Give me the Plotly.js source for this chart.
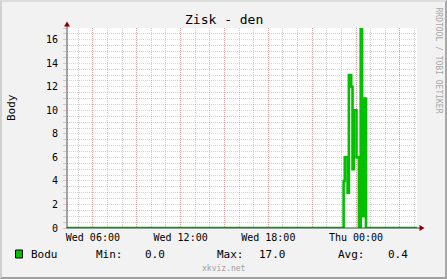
<!DOCTYPE html>
<html>
<head>
<meta charset="utf-8">
<script src="https://cdn.plot.ly/plotly-3.0.1.min.js"></script>
<style>
  html, body { margin: 0; padding: 0; background: #F2F2F2; }
  #wrap { position: relative; width: 447px; height: 279px; }
  #chart { width: 447px; height: 279px; }
  #frame { position: absolute; left: 0; top: 0; width: 447px; height: 279px; box-sizing: border-box;
           border-top: 2px solid #DCDCDC; border-left: 2px solid #D0D0D0;
           border-right: 2px solid #A8A8A8; border-bottom: 2px solid #A0A0A0; pointer-events: none; }
</style>
</head>
<body>
<div id="wrap"><div id="chart"></div><div id="frame"></div></div>
<script>
// Data: hours since Wed 00:00, step values (5-minute samples, points)
const hours  = [4.23, 23.15, 23.23, 23.42, 23.51, 23.67, 23.76, 23.84, 24.03, 24.20, 24.32, 24.41, 24.51, 24.68, 28.17];
const values = [0,    4,     6,     3,     13,    12,    5,     10,    6,     0,     17,    1,     11,    0,     0];

const tickHours  = [6, 9, 12, 15, 18, 21, 24, 27];
const tickLabels = ["Wed 06:00", "", "Wed 12:00", "", "Wed 18:00", "", "Thu 00:00", ""];

const seriesName = "Bodu";
const statLabels = ["Min:", "Max:", "Avg:"];
const statValues = ["0.0", "17.0", "0.4"];

const L = 67, T = 28, W = 350, H = 200;
const X = px => (px - L) / W;
const Y = py => (T + H - py) / H;

const mono = "DejaVu Sans Mono, monospace";
const green = "#00C000";
const redGrid = "rgba(255,0,0,0.22)";
const greyGrid = "rgba(128,128,128,0.36)";

const trace = {
  x: hours, y: values, type: "scatter", mode: "lines",
  line: { shape: "hv", color: green, width: 2.6 },
  hoverinfo: "skip"
};

function ann(text, px, py, size, opts) {
  return Object.assign({
    text: text, xref: "paper", yref: "paper", x: X(px), y: Y(py),
    xanchor: "left", yanchor: "middle", showarrow: false,
    font: { family: mono, size: size, color: "#000" }, borderpad: 0
  }, opts || {});
}

const annotations = [
  ann("Zisk - den", 223.5, 20, 13, { xanchor: "center" }),
  ann("Body", 11, 108, 11, { xanchor: "center", textangle: -90 }),
  ann(seriesName, 30, 254.5, 11),
  ann(statLabels[0], 95, 254.5, 11),
  ann(statValues[0], 144, 254.5, 11),
  ann(statLabels[1], 216, 254.5, 11),
  ann(statValues[1], 258, 254.5, 11),
  ann(statLabels[2], 337, 254.5, 11),
  ann(statValues[2], 386.5, 254.5, 11),
  ann("xkviz.net", 223.5, 268.5, 8, { xanchor: "center", font: { family: mono, size: 8, color: "#A0A0A0" } }),
  ann("RRDTOOL / TOBI OETIKER", 438.5, 60, 8, { xanchor: "center", textangle: 90, font: { family: mono, size: 8, color: "#A8A8A8" } })
];

const axisCol = "#2C4D43";
const shapes = [
  { type: "line", xref: "paper", yref: "paper", x0: X(67), x1: X(67), y0: Y(228), y1: Y(25), line: { color: "#505050", width: 1 } },
  { type: "path", xref: "paper", yref: "paper",
    path: `M ${X(67)} ${Y(21.5)} L ${X(64)} ${Y(26.5)} L ${X(70)} ${Y(26.5)} Z`, fillcolor: "#8B0000", line: { width: 0 } },
  { type: "line", xref: "paper", yref: "paper", x0: X(66), x1: X(420), y0: Y(228), y1: Y(228), line: { color: axisCol, width: 1.2 } },
  { type: "path", xref: "paper", yref: "paper",
    path: `M ${X(424.5)} ${Y(228)} L ${X(419.5)} ${Y(225)} L ${X(419.5)} ${Y(231)} Z`, fillcolor: "#8B0000", line: { width: 0 } },
  { type: "rect", xref: "paper", yref: "paper", x0: X(15.5), x1: X(22.5), y0: Y(250), y1: Y(258), fillcolor: green, line: { color: "#000", width: 1 } }
];

const layout = {
  width: 447, height: 279,
  margin: { l: L, r: 447 - L - W, t: T, b: 279 - T - H, pad: 0 },
  paper_bgcolor: "#F2F2F2", plot_bgcolor: "#FFFFFF",
  showlegend: false,
  xaxis: {
    range: [4.23, 28.17], tickmode: "array", tickvals: tickHours, ticktext: tickLabels,
    showgrid: true, gridcolor: redGrid, griddash: "1px,1px", gridwidth: 1,
    minor: { tickmode: "linear", tick0: 0, dtick: 1, showgrid: true, gridcolor: greyGrid, griddash: "1px,1px", gridwidth: 1 },
    zeroline: false, showline: false, ticks: "", ticklabelstandoff: 2,
    tickfont: { family: mono, size: 10, color: "#000" }, fixedrange: true
  },
  yaxis: {
    range: [0, 17], tickmode: "linear", tick0: 0, dtick: 2,
    showgrid: true, gridcolor: redGrid, griddash: "1px,1px", gridwidth: 1,
    minor: { tickmode: "linear", tick0: 0, dtick: 0.5, showgrid: true, gridcolor: greyGrid, griddash: "1px,1px", gridwidth: 1, ticks: "outside", ticklen: 3, tickcolor: greyGrid },
    ticks: "outside", ticklen: 3, tickcolor: redGrid,
    zeroline: false, showline: false, ticklabelstandoff: 3,
    tickfont: { family: mono, size: 10, color: "#000" }, fixedrange: true
  },
  annotations: annotations,
  shapes: shapes
};

Plotly.newPlot("chart", [trace], layout, { displayModeBar: false, staticPlot: true });
</script>
</body>
</html>
